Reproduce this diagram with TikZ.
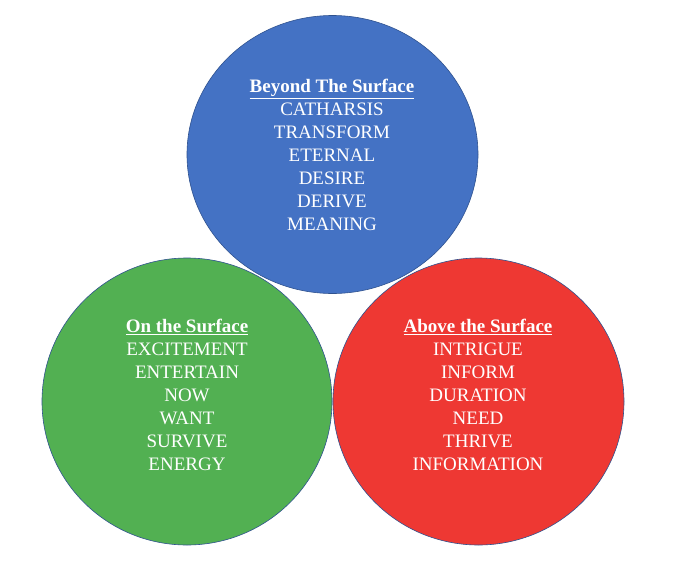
\documentclass[tikz,border=0pt]{standalone}
\usepackage{fontspec}
\setmainfont{Liberation Serif}
\definecolor{cblue}{HTML}{4472C4}
\definecolor{cgreen}{HTML}{52B052}
\definecolor{cred}{HTML}{EE3833}
\definecolor{cedge}{HTML}{2F528F}
\tikzset{
  bubble/.style={draw=cedge, line width=0.6pt},
  words/.style={text=white, align=center, font=\fontsize{19}{23}\selectfont, inner sep=0pt},
}
\newcommand{\ttl}[1]{\underline{\textbf{#1}}}
\begin{document}
\begin{tikzpicture}[x=1pt,y=-1pt]
\useasboundingbox[fill=white] (0,0) rectangle (688,560);
\path[bubble, fill=cblue] (332.5,154.5) ellipse [x radius=145.5, y radius=139];
\path[bubble, fill=cgreen] (187,401.5) ellipse [x radius=145, y radius=143.5];
\path[bubble, fill=cred] (478.5,401.5) ellipse [x radius=145.5, y radius=143.5];
\node[words] (tb) at (332,155) {\ttl{Beyond The Surface}\\CATHARSIS\\TRANSFORM\\ETERNAL\\DESIRE\\DERIVE\\MEANING};
\node[words] (tg) at (187,395) {\ttl{On the Surface}\\EXCITEMENT\\ENTERTAIN\\NOW\\WANT\\SURVIVE\\ENERGY};
\node[words] (tr) at (478,395) {\ttl{Above the Surface}\\INTRIGUE\\INFORM\\DURATION\\NEED\\THRIVE\\INFORMATION};
\end{tikzpicture}
\end{document}
